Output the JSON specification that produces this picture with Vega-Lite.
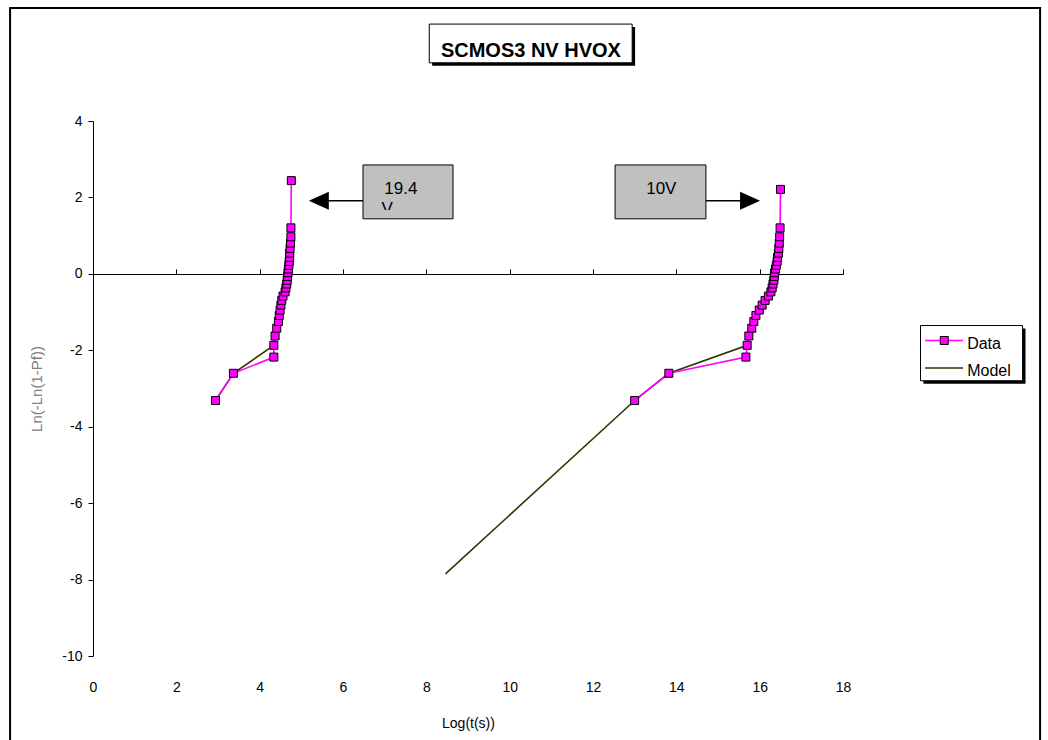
{
  "$schema": "https://vega.github.io/schema/vega-lite/v6.json",
  "width": 750,
  "height": 535,
  "autosize": {"type": "none"},
  "padding": {"left": 93, "top": 121, "right": 205, "bottom": 84},
  "background": "white",
  "config": {"view": {"stroke": null}, "axis": {"grid": false}, "font": "Liberation Sans"},
  "datasets": {
    "pts": [
      {"s": "Data", "g": "L", "o": 1, "x": 2.94, "y": -3.314},
      {"s": "Data", "g": "L", "o": 2, "x": 3.37, "y": -2.602},
      {"s": "Data", "g": "L", "o": 3, "x": 4.34, "y": -2.178},
      {"s": "Data", "g": "L", "o": 4, "x": 4.34, "y": -1.87},
      {"s": "Data", "g": "L", "o": 5, "x": 4.37, "y": -1.626},
      {"s": "Data", "g": "L", "o": 6, "x": 4.41, "y": -1.422},
      {"s": "Data", "g": "L", "o": 7, "x": 4.45, "y": -1.246},
      {"s": "Data", "g": "L", "o": 8, "x": 4.47, "y": -1.089},
      {"s": "Data", "g": "L", "o": 9, "x": 4.49, "y": -0.947},
      {"s": "Data", "g": "L", "o": 10, "x": 4.51, "y": -0.817},
      {"s": "Data", "g": "L", "o": 11, "x": 4.53, "y": -0.695},
      {"s": "Data", "g": "L", "o": 12, "x": 4.56, "y": -0.581},
      {"s": "Data", "g": "L", "o": 13, "x": 4.61, "y": -0.471},
      {"s": "Data", "g": "L", "o": 14, "x": 4.63, "y": -0.367},
      {"s": "Data", "g": "L", "o": 15, "x": 4.65, "y": -0.265},
      {"s": "Data", "g": "L", "o": 16, "x": 4.66, "y": -0.166},
      {"s": "Data", "g": "L", "o": 17, "x": 4.67, "y": -0.068},
      {"s": "Data", "g": "L", "o": 18, "x": 4.68, "y": 0.029},
      {"s": "Data", "g": "L", "o": 19, "x": 4.69, "y": 0.127},
      {"s": "Data", "g": "L", "o": 20, "x": 4.70, "y": 0.225},
      {"s": "Data", "g": "L", "o": 21, "x": 4.71, "y": 0.327},
      {"s": "Data", "g": "L", "o": 22, "x": 4.72, "y": 0.432},
      {"s": "Data", "g": "L", "o": 23, "x": 4.72, "y": 0.544},
      {"s": "Data", "g": "L", "o": 24, "x": 4.73, "y": 0.666},
      {"s": "Data", "g": "L", "o": 25, "x": 4.74, "y": 0.804},
      {"s": "Data", "g": "L", "o": 26, "x": 4.75, "y": 0.97},
      {"s": "Data", "g": "L", "o": 27, "x": 4.75, "y": 1.204},
      {"s": "Data", "g": "L", "o": 28, "x": 4.76, "y": 2.44},
      {"s": "Data", "g": "R", "o": 1, "x": 13.0, "y": -3.314},
      {"s": "Data", "g": "R", "o": 2, "x": 13.82, "y": -2.602},
      {"s": "Data", "g": "R", "o": 3, "x": 15.67, "y": -2.178},
      {"s": "Data", "g": "R", "o": 4, "x": 15.70, "y": -1.87},
      {"s": "Data", "g": "R", "o": 5, "x": 15.74, "y": -1.626},
      {"s": "Data", "g": "R", "o": 6, "x": 15.81, "y": -1.422},
      {"s": "Data", "g": "R", "o": 7, "x": 15.86, "y": -1.246},
      {"s": "Data", "g": "R", "o": 8, "x": 15.91, "y": -1.089},
      {"s": "Data", "g": "R", "o": 9, "x": 15.99, "y": -0.947},
      {"s": "Data", "g": "R", "o": 10, "x": 16.06, "y": -0.817},
      {"s": "Data", "g": "R", "o": 11, "x": 16.13, "y": -0.695},
      {"s": "Data", "g": "R", "o": 12, "x": 16.21, "y": -0.581},
      {"s": "Data", "g": "R", "o": 13, "x": 16.27, "y": -0.471},
      {"s": "Data", "g": "R", "o": 14, "x": 16.30, "y": -0.367},
      {"s": "Data", "g": "R", "o": 15, "x": 16.32, "y": -0.265},
      {"s": "Data", "g": "R", "o": 16, "x": 16.34, "y": -0.166},
      {"s": "Data", "g": "R", "o": 17, "x": 16.35, "y": -0.068},
      {"s": "Data", "g": "R", "o": 18, "x": 16.36, "y": 0.029},
      {"s": "Data", "g": "R", "o": 19, "x": 16.38, "y": 0.127},
      {"s": "Data", "g": "R", "o": 20, "x": 16.40, "y": 0.225},
      {"s": "Data", "g": "R", "o": 21, "x": 16.42, "y": 0.327},
      {"s": "Data", "g": "R", "o": 22, "x": 16.43, "y": 0.432},
      {"s": "Data", "g": "R", "o": 23, "x": 16.45, "y": 0.544},
      {"s": "Data", "g": "R", "o": 24, "x": 16.46, "y": 0.666},
      {"s": "Data", "g": "R", "o": 25, "x": 16.47, "y": 0.804},
      {"s": "Data", "g": "R", "o": 26, "x": 16.48, "y": 0.97},
      {"s": "Data", "g": "R", "o": 27, "x": 16.49, "y": 1.204},
      {"s": "Data", "g": "R", "o": 28, "x": 16.50, "y": 2.21},
      {"s": "Model", "g": "L", "o": 1, "x": 2.94, "y": -3.314},
      {"s": "Model", "g": "L", "o": 2, "x": 3.37, "y": -2.602},
      {"s": "Model", "g": "L", "o": 3, "x": 4.34, "y": -1.87},
      {"s": "Model", "g": "L", "o": 4, "x": 4.37, "y": -1.626},
      {"s": "Model", "g": "R", "o": 0, "x": 8.46, "y": -7.85},
      {"s": "Model", "g": "R", "o": 1, "x": 13.0, "y": -3.314},
      {"s": "Model", "g": "R", "o": 2, "x": 13.82, "y": -2.602},
      {"s": "Model", "g": "R", "o": 3, "x": 15.70, "y": -1.87},
      {"s": "Model", "g": "R", "o": 4, "x": 15.74, "y": -1.626}
    ],
    "frame": [{"x": -1.99, "x2": 22.73, "y": 6.954, "y2": -12.4}],
    "titleShadow": [{"x": 8.14, "x2": 13.01, "y": 6.458, "y2": 5.445}],
    "titleBox": [{"x": 8.07, "x2": 12.94, "y": 6.536, "y2": 5.523}],
    "titleText": [{"x": 10.51, "y": 5.681, "t": "SCMOS3 NV HVOX"}],
    "annBox": [
      {"x": 6.48, "x2": 8.64, "y": 2.85, "y2": 1.44},
      {"x": 12.53, "x2": 14.71, "y": 2.85, "y2": 1.44}
    ],
    "annText": [
      {"x": 7.39, "y": 2.09, "t": "19.4"},
      {"x": 13.64, "y": 2.09, "t": "10V"},
      {"x": 7.06, "y": 1.569, "t": "V"}
    ],
    "annCover": [{"x": 6.51, "x2": 8.61, "y": 1.673, "y2": 1.46}],
    "arrowLine": [
      {"x": 5.55, "x2": 6.48, "y": 1.91},
      {"x": 14.71, "x2": 15.65, "y": 1.91}
    ],
    "arrowHead": [
      {"x": 5.42, "y": 1.91, "dir": "left"},
      {"x": 15.77, "y": 1.91, "dir": "right"}
    ],
    "legShadow": [{"x": 19.93, "x2": 22.38, "y": -1.43, "y2": -2.875}],
    "legBox": [{"x": 19.86, "x2": 22.31, "y": -1.352, "y2": -2.797}],
    "legLines": [
      {"k": "Data", "x": 19.97, "x2": 20.88, "y": -1.744},
      {"k": "Model", "x": 19.97, "x2": 20.88, "y": -2.465}
    ],
    "legMark": [{"x": 20.43, "y": -1.744}],
    "legText": [
      {"x": 20.98, "y": -1.961, "t": "Data"},
      {"x": 20.98, "y": -2.667, "t": "Model"}
    ]
  },
  "resolve": {"axis": {"x": "independent", "y": "independent"}},
  "encoding": {
    "x": {"field": "x", "type": "quantitative", "scale": {"domain": [0, 18], "nice": false, "zero": false}, "axis": null},
    "y": {"field": "y", "type": "quantitative", "scale": {"domain": [-10, 4], "nice": false, "zero": false}, "axis": null}
  },
  "layer": [
    {
      "data": {"name": "frame"},
      "mark": {"type": "rect", "fill": null, "fillOpacity": 0, "stroke": "black", "strokeWidth": 2},
      "encoding": {"x2": {"field": "x2"}, "y2": {"field": "y2"}}
    },
    {
      "data": {"name": "pts"},
      "transform": [{"filter": "datum.s == 'Model'"}],
      "mark": {"type": "line", "color": "#333300", "strokeWidth": 1.6},
      "encoding": {
        "x": {
          "field": "x", "type": "quantitative",
          "scale": {"domain": [0, 18], "nice": false, "zero": false},
          "axis": {
            "orient": "bottom", "domain": false, "ticks": false, "tickSize": 0,
            "values": [0, 2, 4, 6, 8, 10, 12, 14, 16, 18],
            "labelFont": "Liberation Sans", "labelFontSize": 14, "labelColor": "black",
            "labelPadding": 24, "labelFlush": false, "labelOverlap": false,
            "title": "Log(t(s))", "titleFont": "Liberation Sans", "titleFontSize": 14,
            "titleFontWeight": "normal", "titleColor": "black", "titlePadding": 22
          }
        },
        "y": {
          "field": "y", "type": "quantitative",
          "scale": {"domain": [-10, 4], "nice": false, "zero": false},
          "axis": {
            "orient": "left", "domain": true, "domainColor": "black", "domainWidth": 1,
            "ticks": true, "tickColor": "black", "tickSize": 5, "tickWidth": 1,
            "values": [-10, -8, -6, -4, -2, 0, 2, 4],
            "labelExpr": "datum.value < 0 ? '-' + abs(datum.value) : '' + datum.value",
            "labelFont": "Liberation Sans", "labelFontSize": 14, "labelColor": "black",
            "labelPadding": 6, "labelFlush": false, "labelOverlap": false,
            "title": "Ln(-Ln(1-Pf))", "titleFont": "Liberation Sans", "titleFontSize": 15,
            "titleFontWeight": "normal", "titleColor": "#808080", "titlePadding": 17
          }
        },
        "detail": {"field": "g"},
        "order": {"field": "o", "type": "quantitative"}
      }
    },
    {
      "data": {"name": "pts"},
      "transform": [{"filter": "datum.s == 'Data'"}],
      "mark": {"type": "line", "color": "#FF00FF", "strokeWidth": 1.6},
      "encoding": {
        "x": {
          "field": "x", "type": "quantitative",
          "scale": {"domain": [0, 18], "nice": false, "zero": false},
          "axis": {
            "orient": "top", "offset": -153, "labels": false, "title": null,
            "domain": true, "domainColor": "black", "domainWidth": 1,
            "ticks": true, "tickColor": "black", "tickSize": 5, "tickWidth": 1,
            "values": [0, 2, 4, 6, 8, 10, 12, 14, 16, 18]
          }
        },
        "detail": {"field": "g"},
        "order": {"field": "o", "type": "quantitative"}
      }
    },
    {
      "data": {"name": "pts"},
      "transform": [{"filter": "datum.s == 'Data'"}],
      "mark": {"type": "point", "shape": "square", "filled": true, "size": 64, "color": "#FF00FF", "stroke": "black", "strokeWidth": 1, "opacity": 1}
    },
    {
      "data": {"name": "titleShadow"},
      "mark": {"type": "rect", "fill": "black"},
      "encoding": {"x2": {"field": "x2"}, "y2": {"field": "y2"}}
    },
    {
      "data": {"name": "titleBox"},
      "mark": {"type": "rect", "fill": "white", "stroke": "black", "strokeWidth": 1},
      "encoding": {"x2": {"field": "x2"}, "y2": {"field": "y2"}}
    },
    {
      "data": {"name": "titleText"},
      "mark": {"type": "text", "font": "Liberation Sans", "fontSize": 20, "fontWeight": "bold", "align": "center", "baseline": "alphabetic", "color": "black"},
      "encoding": {"text": {"field": "t"}}
    },
    {
      "data": {"name": "annBox"},
      "mark": {"type": "rect", "fill": "#C0C0C0", "stroke": "black", "strokeWidth": 1},
      "encoding": {"x2": {"field": "x2"}, "y2": {"field": "y2"}}
    },
    {
      "data": {"name": "annText"},
      "mark": {"type": "text", "font": "Liberation Sans", "fontSize": 17, "align": "center", "baseline": "alphabetic", "color": "black"},
      "encoding": {"text": {"field": "t"}}
    },
    {
      "data": {"name": "annCover"},
      "mark": {"type": "rect", "fill": "#C0C0C0"},
      "encoding": {"x2": {"field": "x2"}, "y2": {"field": "y2"}}
    },
    {
      "data": {"name": "arrowLine"},
      "mark": {"type": "rule", "color": "black", "strokeWidth": 1.5},
      "encoding": {"x2": {"field": "x2"}}
    },
    {
      "data": {"name": "arrowHead"},
      "mark": {"type": "point", "filled": true, "size": 400, "color": "black", "opacity": 1},
      "encoding": {
        "shape": {
          "field": "dir", "type": "nominal",
          "scale": {"domain": ["left", "right"], "range": ["M-1,0L1,-0.9L1,0.9Z", "M1,0L-1,-0.9L-1,0.9Z"]},
          "legend": null
        }
      }
    },
    {
      "data": {"name": "legShadow"},
      "mark": {"type": "rect", "fill": "black"},
      "encoding": {"x2": {"field": "x2"}, "y2": {"field": "y2"}}
    },
    {
      "data": {"name": "legBox"},
      "mark": {"type": "rect", "fill": "white", "stroke": "black", "strokeWidth": 1},
      "encoding": {"x2": {"field": "x2"}, "y2": {"field": "y2"}}
    },
    {
      "data": {"name": "legLines"},
      "mark": {"type": "rule", "strokeWidth": 1.6},
      "encoding": {
        "x2": {"field": "x2"},
        "color": {"field": "k", "type": "nominal", "scale": {"domain": ["Data", "Model"], "range": ["#FF00FF", "#333300"]}, "legend": null}
      }
    },
    {
      "data": {"name": "legMark"},
      "mark": {"type": "point", "shape": "square", "filled": true, "size": 64, "color": "#FF00FF", "stroke": "black", "strokeWidth": 1, "opacity": 1}
    },
    {
      "data": {"name": "legText"},
      "mark": {"type": "text", "font": "Liberation Sans", "fontSize": 16, "align": "left", "baseline": "alphabetic", "color": "black"},
      "encoding": {"text": {"field": "t"}}
    }
  ]
}
